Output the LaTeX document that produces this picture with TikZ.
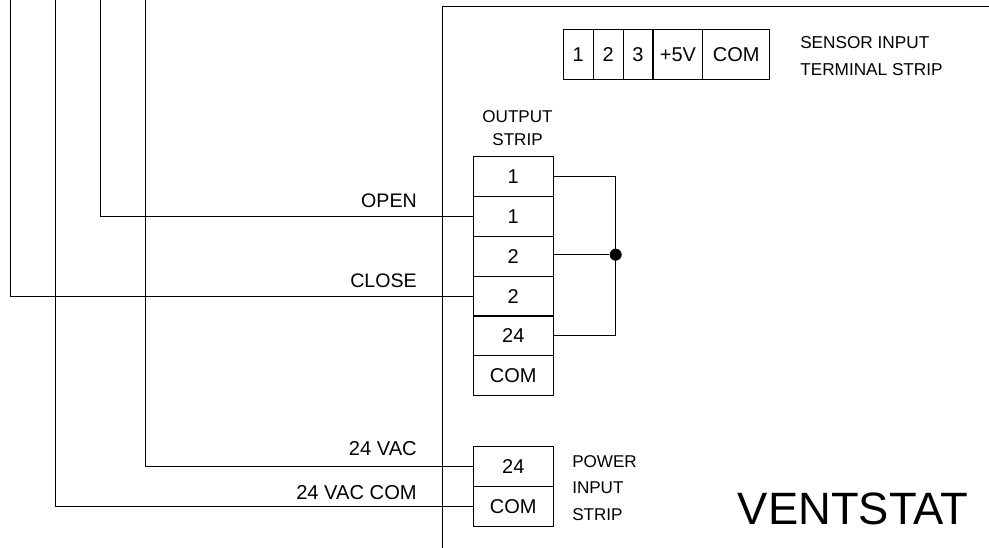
\documentclass[tikz,border=0pt]{standalone}
\usepackage{fontspec}
\setmainfont{Liberation Sans}
\usepackage{tikz}
\usetikzlibrary{calc}
\tikzset{
  wire/.style={draw=black,line width=0.75pt},
  cell/.style={draw=black,line width=0.75pt,inner sep=0pt,minimum width=59.6pt,minimum height=29.8pt,font=\fontsize{15}{18}\selectfont},
  termcell/.style={draw=black,line width=0.75pt,inner sep=0pt,minimum height=37.5pt,font=\fontsize{15}{18}\selectfont},
  lbl/.style={inner sep=0pt,font=\fontsize{12.8}{16}\selectfont},
  wirelbl/.style={inner sep=0pt,anchor=east,font=\fontsize{14.7}{18}\selectfont},
  vaclbl/.style={wirelbl,font=\fontsize{15.1}{18}\selectfont},
  junction/.style={circle,fill=black,inner sep=0pt,minimum size=9pt}
}
\begin{document}
\begin{tikzpicture}[x=0.75pt,y=-0.75pt]
\useasboundingbox (0,0) rectangle (989,548);
% enclosure
\draw[wire] (442.5,548) -- (442.5,6.5) -- (989,6.5);
% sensor terminal strip
\node[termcell,minimum width=22.4pt] (term1) at (578.3,54.3) {1};
\node[termcell,minimum width=22.4pt] (term2) at (608.2,54.3) {2};
\node[termcell,minimum width=22.4pt] (term3) at (638,54.3) {3};
\node[termcell,minimum width=37.3pt] (term5v) at (677.9,54.3) {+5V};
\node[termcell,minimum width=50.4pt] (termcom) at (736.3,54.3) {COM};
\node[lbl,anchor=west,font=\fontsize{12.9}{16}\selectfont] (sensorlbl) at (800,43) {SENSOR INPUT};
\node[lbl,anchor=west,font=\fontsize{12.9}{16}\selectfont] (terminallbl) at (800,69.5) {TERMINAL STRIP};
% output strip
\node[lbl] (outputlbl) at (517.5,116.7) {OUTPUT};
\node[lbl] (striplbl) at (517.5,140) {STRIP};
\node[cell] (out1) at (513.3,176.8) {1};
\node[cell] (out2) at (513.3,216.5) {1};
\node[cell] (out3) at (513.3,256.3) {2};
\node[cell] (out4) at (513.3,296.1) {2};
\node[cell] (out5) at (513.3,335.9) {24};
\node[cell] (out6) at (513.3,375.7) {COM};
\node[junction] (bus) at (615.7,254.7) {};
\draw[wire] (out1.east) -| (bus.center) |- (out5.east);
\draw[wire] (out3.east |- bus) -- (bus);
% power strip
\node[cell] (pow1) at (513.3,466.5) {24};
\node[cell] (pow2) at (513.3,506.3) {COM};
\node[lbl,anchor=west] (powerlbl) at (572,461.7) {POWER};
\node[lbl,anchor=west] (inputlbl) at (572,487.7) {INPUT};
\node[lbl,anchor=west] (stripbotlbl) at (572,515) {STRIP};
% field wires
\coordinate (topopen) at (100.7,0);
\coordinate (topclose) at (10,0);
\coordinate (topvac) at (145.7,0);
\coordinate (topcom) at (55.3,0);
\draw[wire] (topopen) |- (out2.west);
\draw[wire] (topclose) |- (out4.west);
\draw[wire] (topvac) |- (pow1.west);
\draw[wire] (topcom) |- (pow2.west);
\node[wirelbl] (openlbl) at (417,200.5) {OPEN};
\node[wirelbl] (closelbl) at (417,280.5) {CLOSE};
\node[vaclbl] (vaclbl) at (417,449) {24 VAC};
\node[vaclbl] (comlbl) at (417,493) {24 VAC COM};
\node[inner sep=0pt,font=\fontsize{34}{38}\selectfont] (ventstat) at (853,509) {VENTSTAT};
\end{tikzpicture}
\end{document}
